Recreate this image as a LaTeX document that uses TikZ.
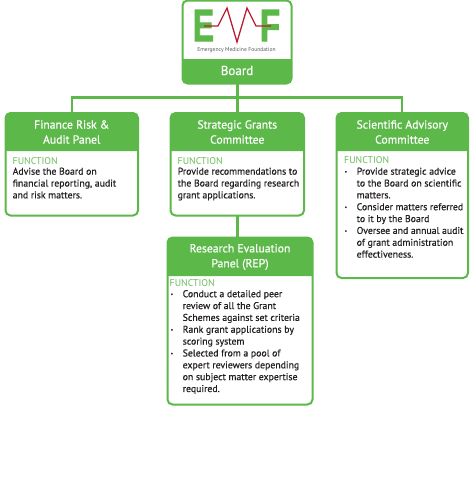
\documentclass[tikz,border=0pt]{standalone}
\usepackage{fontspec}
\setmainfont{PT Sans}
\newfontfamily\inkfont[RawFeature={embolden=0.5}]{PT Sans}
\newfontfamily\logofont[RawFeature={embolden=2.5}]{Liberation Sans Bold}
\definecolor{emfgreen}{HTML}{5DB84A}
\definecolor{fnlabel}{HTML}{6CBD5C}
\definecolor{bodyink}{HTML}{231F20}
\definecolor{emfred}{HTML}{B81F33}
\newcommand{\bul}[1]{\makebox[12pt][l]{\raisebox{1.2pt}{\scalebox{.55}{\textbullet}}}#1}
\newcommand{\cnt}[1]{\hspace*{12pt}#1}
\newcommand{\panel}[8]{% name,x1,y1,x2,y2,ybreak,title centre y,title
  \node[panelbox,minimum width=#4pt-#2pt,minimum height=#5pt-#3pt] (#1) at ({(#2+#4)/2},{(#3+#5)/2}) {};
  \fill[emfgreen,rounded corners=5pt] (#2,#6) -- (#2,#3) -- (#4,#3) -- (#4,#6);
  \fill[emfgreen] (#2,#6) rectangle (#4,#6-4);
  \node[paneltitle] (#1title) at ({(#2+#4)/2},#7) {#8};
}
\tikzset{
  x=1pt,y=-1pt,
  panelbox/.style={draw=emfgreen,line width=2pt,rounded corners=5pt,fill=white,inner sep=0pt,outer sep=0pt},
  paneltitle/.style={text=white,font=\inkfont\fontsize{11.7}{15}\selectfont,align=center,inner sep=0pt},
  fnhead/.style={text=fnlabel,font=\fontsize{9.8}{12}\selectfont,anchor=base west,inner sep=0pt},
  fnbody/.style={text=bodyink,font=\inkfont\fontsize{9.8}{11.85}\selectfont,align=left,anchor=north west,inner sep=0pt},
  link/.style={draw=emfgreen,line width=2.2pt},
  logoletter/.style={text=emfgreen,font=\logofont\fontsize{45}{45}\selectfont,inner sep=0pt,anchor=base},
}
\begin{document}
\begin{tikzpicture}
\useasboundingbox (0,0) rectangle (474,496);
% Board panel: white upper part with the logo, green band below
\node[panelbox,minimum width=109pt,minimum height=83pt] (board) at (237,42) {};
\fill[emfgreen,rounded corners=5pt] (182.5,59) -- (182.5,83.5) -- (291.5,83.5) -- (291.5,59);
\fill[emfgreen] (182.5,59) rectangle (291.5,63);
\node[paneltitle,font=\inkfont\fontsize{13}{15}\selectfont] (boardtitle) at (237,70.5) {Board};
% Panels
\panel{fin}{5.5}{113}{138}{215.5}{151}{132}{Finance Risk \&\\Audit Panel}
\panel{strat}{170.5}{113}{304}{215.5}{151}{132}{Strategic Grants\\Committee}
\panel{rep}{167.5}{237.5}{312.5}{404.5}{276}{257}{Research Evaluation\\Panel (REP)}
\panel{sac}{336.5}{113}{468}{278}{151}{132}{Scientific Advisory\\Committee}
% Connectors
\coordinate (bus) at (237.5,97.5);
\draw[link] (board.south -| bus) -- (bus);
\draw[link] (fin.north) |- (bus) -| (sac.north);
\draw[link] (bus) -- (bus |- strat.north);
\draw[link] (bus |- strat.south) -- (bus |- rep.north);
% Logo
\node[logoletter,xscale=.7] (logoe) at (203.5,41) {E};
\node[logoletter,xscale=.74] (logof) at (270,41) {F};
\draw[emfred,line width=1.3pt,line join=miter] (204,26) -- (218,26) -- (227,8) -- (237,42) -- (247,8) -- (256,26) -- (271,26);
\node[text=black!65,font=\fontsize{5.6}{6}\selectfont,inner sep=0pt] (logotext) at (236.5,50.5) {Emergency Medicine Foundation};
% Finance
\node[fnhead] (finhead) at (12.5,164) {FUNCTION};
\node[fnbody] (finbody) at (12.5,167.5) {Advise the Board on\\financial reporting, audit\\and risk matters.};
% Strategic
\node[fnhead] (strathead) at (177.5,164) {FUNCTION};
\node[fnbody] (stratbody) at (177.5,167.5) {Provide recommendations to\\the Board regarding research\\grant applications.};
% REP
\node[fnhead] (rephead) at (169.5,286) {FUNCTION};
\node[fnbody] (repbody) at (170.5,290) {\bul{Conduct a detailed peer}\\\cnt{review of all the Grant}\\\cnt{Schemes against set criteria}\\\bul{Rank grant applications by}\\\cnt{scoring system}\\\bul{Selected from a pool of}\\\cnt{expert reviewers depending}\\\cnt{on subject matter expertise}\\\cnt{required.}};
% SAC
\node[fnhead] (sachead) at (344,163.5) {FUNCTION};
\node[fnbody] (sacbody) at (344.5,167.5) {\bul{Provide strategic advice}\\\cnt{to the Board on scientific}\\\cnt{matters.}\\\bul{Consider matters referred}\\\cnt{to it by the Board}\\\bul{Oversee and annual audit}\\\cnt{of grant administration}\\\cnt{effectiveness.}};
\end{tikzpicture}
\end{document}
